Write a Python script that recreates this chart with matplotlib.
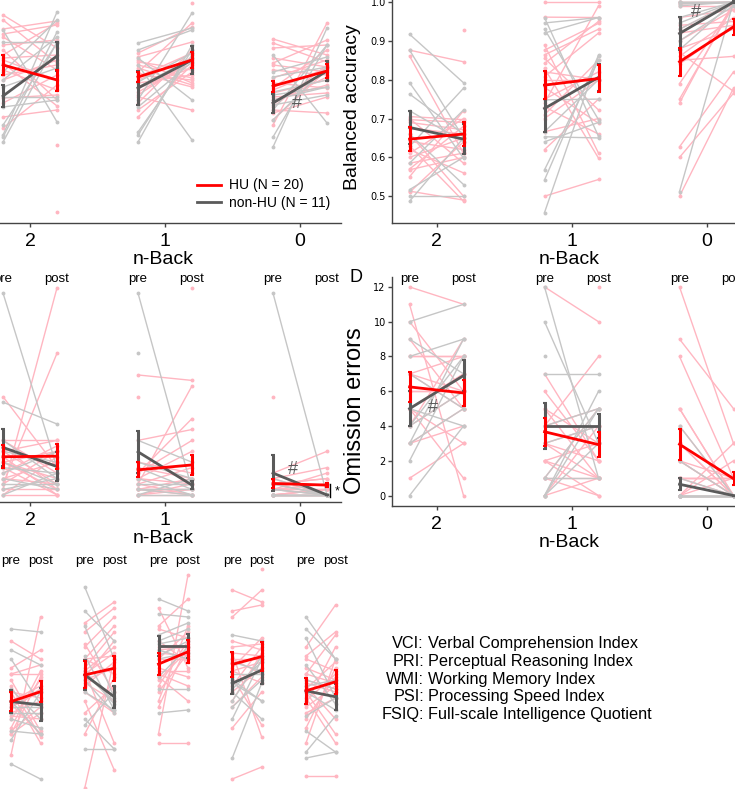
import numpy as np
import matplotlib
matplotlib.use('Agg')
import matplotlib.pyplot as plt
from matplotlib.lines import Line2D
import matplotlib.transforms as mtransforms

nan = np.nan
W, H = 735, 789

# ---------------- labels ----------------
nback_labels = ['2', '1', '0']
wais_labels = ['VCI', 'PRI', 'WMI', 'PSI', 'FSIQ']
wais_names = ['Verbal Comprehension Index', 'Perceptual Reasoning Index',
              'Working Memory Index', 'Processing Speed Index',
              'Full-scale Intelligence Quotient']
group_labels = ['HU (N = 20)', 'non-HU (N = 11)']

# ---------------- Panel A (reaction time, ms) ----------------
A_hu_pre = [
    [770, 760, 742, 732, 726, 700, 690, 680, 674, 660, 640, 604, 594, 566, 544, 710, 684, 650, nan, nan],
    [694, 686, 680, 676, 664, 656, 654, 646, 634, 616, 610, 606, 594, 580, 566, 650, 640, 624, 670, nan],
    [722, 714, 704, 684, 674, 634, 624, 606, 594, 580, 574, 560, 550, 660, 644, 614, 600, 586, 670, 620]]
A_hu_post = [
    [704, 674, 758, 750, 660, 600, 754, 640, 588, 620, 680, 610, 650, 580, 630, 720, 690, 670, 510, 376],
    [746, 716, 634, 660, 630, 754, 626, 694, 650, 674, 680, 580, 700, 656, 670, 640, 684, 664, 644, 794],
    [690, 676, 710, 666, 720, 624, 700, 614, 646, 574, 606, 660, 754, 650, 680, 640, 630, 670, 656, 664]]
A_non_pre = [
    [530, 740, 516, 526, 550, 586, 606, 626, 640, 656, 716],
    [714, 700, 684, 670, 636, 626, 600, 586, 536, 530, 516],
    [506, 526, 690, 656, 646, 616, 600, 590, 580, 560, 610]]
A_non_post = [
    [776, 556, 716, 736, 714, 600, 606, 664, 726, 760, 716],
    [744, 740, 600, 520, 694, 684, 774, 676, 690, 700, 710],
    [744, 710, 554, 686, 666, 640, 626, 610, 710, 666, 626]]
A_hu_mean_pre, A_hu_mean_post = [670, 646, 628], [640, 680, 658]
A_hu_err_pre, A_hu_err_post = [20, 10, 11], [21, 16, 14]
A_non_mean_pre, A_non_mean_post = [608, 624, 594], [688, 680, 658]
A_non_err_pre, A_non_err_post = [22, 34, 19], [29, 28, 20]

# ---------------- Panel B (balanced accuracy) ----------------
B_hu_pre = [
    [0.876, 0.861, 0.705, 0.70, 0.697, 0.69, 0.675, 0.66, 0.641, 0.63, 0.62, 0.61, 0.60, 0.585, 0.57, 0.568, 0.55, 0.513, 0.51, nan],
    [1.0, 0.961, 0.889, 0.876, 0.864, 0.855, 0.842, 0.829, 0.808, 0.78, 0.71, 0.70, 0.5, 0.666, 0.62, 0.75, 0.73, 0.74, 0.80, 0.82],
    [1.0, 1.0, 0.995, 0.99, 0.96, 0.94, 0.93, 0.92, 0.90, 0.88, 0.87, 0.86, 0.85, 0.84, 0.79, 0.627, 0.6, 0.5, 0.75, 0.74]]
B_hu_post = [
    [0.846, 0.61, 0.697, 0.585, 0.69, 0.671, 0.66, 0.5, 0.62, 0.487, 0.56, 0.70, 0.65, 0.611, 0.68, 0.6, 0.72, 0.49, 0.64, 0.929],
    [1.0, 0.96, 0.611, 0.945, 0.93, 0.722, 0.95, 0.598, 0.92, 0.688, 0.85, 0.80, 0.543, 0.70, 0.75, 0.82, 0.66, 0.99, 0.8, 0.8],
    [1.0, 1.0, 1.0, 0.99, 0.98, 0.95, 1.0, 0.94, 0.98, 0.93, 0.77, 0.96, 0.86, 0.94, 0.99, 0.82, 0.765, 0.778, 0.99, 1.0]]
B_non_pre = [
    [0.917, 0.876, 0.792, 0.763, 0.628, 0.66, 0.585, 0.517, 0.5, 0.487, 0.72],
    [0.96, 0.946, 0.93, 0.92, 0.748, 0.666, 0.653, 0.64, 0.568, 0.542, 0.458],
    [1.0, 1.0, 1.0, 0.995, 0.96, 0.946, 0.93, 0.9, 0.877, 0.99, 0.512]]
B_non_post = [
    [0.792, 0.65, 0.598, 0.66, 0.778, 0.53, 0.722, 0.6, 0.5, 0.65, 0.64],
    [0.654, 0.96, 0.697, 0.96, 0.75, 0.80, 0.65, 0.69, 0.85, 0.863, 0.86],
    [1.0, 1.0, 1.0, 1.0, 1.0, 1.0, 1.0, 0.99, 1.0, 1.0, 1.0]]
B_hu_mean_pre, B_hu_mean_post = [0.647, 0.786, 0.846], [0.660, 0.803, 0.936]
B_hu_err_pre, B_hu_err_post = [0.030, 0.036, 0.036], [0.031, 0.036, 0.020]
B_non_mean_pre, B_non_mean_post = [0.677, 0.726, 0.919], [0.647, 0.806, 1.0]
B_non_err_pre, B_non_err_post = [0.043, 0.060, 0.043], [0.039, 0.034, 0.003]
B_yticks = [0.5, 0.6, 0.7, 0.8, 0.9, 1.0]

# ---------------- Panel C (commission errors) ----------------
C_hu_pre = [
    [18, 10, 10, 9, 8, 7, 6, 6, 5, 4, 3, 3, 2, 2, 1, 1, 0, 0, 8, 6],
    [22, 18, 10, 5, 4, 3, 3, 2, 2, 1, 1, 1, 0, 0, 0, 6, 4, 2, 1, nan],
    [18, 4, 3, 2, 2, 1, 1, 1, 1, 0, 0, 0, 0, 0, 1, 2, 3, 1, 0, 2]]
C_hu_post = [
    [5, 10, 4, 1, 2, 0, 3, 1, 0, 9, 6, 2, 26, 8, 38, 1, 0, 7, 10, 8],
    [21, nan, 12, 3, 14, 8, 2, 0, 20, 3, 1, 0, 2, 1, 0, 4, 10, 5, 1, 38],
    [nan, 8, 5, 3, 2, 1, 0, 2, 1, 0, 1, 0, 0, 1, 4, 3, 0, 2, 1, 0]]
C_non_pre = [
    [37, 17, 10, 8, 6, 5, 4, 3, 2, 1, 0],
    [37, 26, 10, 6, 5, 3, 2, 1, 1, 0, 0],
    [37, 3, 2, 2, 1, 1, 0, 0, 0, 0, 0]]
C_non_post = [
    [5, 13, 3, 6, 2, 4, 8, 1, 2, 3, 4],
    [1, nan, 6, 3, 1, 0, 2, 1, 0, 3, 0],
    [0, 0, 0, 0, 0, 0, 0, 0, 0, 0, 0]]
C_hu_mean_pre, C_hu_mean_post = [7.0, 4.6, 2.1], [7.1, 5.5, 1.8]
C_hu_err_pre, C_hu_err_post = [2.1, 1.4, 0.9], [2.3, 1.9, 0.4]
C_non_mean_pre, C_non_mean_post = [8.7, 7.9, 4.0], [5.2, 1.8, 0.0]
C_non_err_pre, C_non_err_post = [3.4, 3.8, 3.3], [2.6, 0.8, 0.0]

# ---------------- Panel D (omission errors) ----------------
D_hu_pre = [
    [12, 11, 10, 9, 8, 8, 7, 7, 7, 6, 5, 5, 5, 4, 3, 3, 1, 6, 5, 4],
    [12, 7, 5, 4, 4, 3, 3, 3, 2, 2, 2, 1, 1, 1, 0, 0, 5, 6, 4, nan],
    [12, 9, 8, 5, 3, 2, 2, 1, 1, 1, 0, 0, 0, 0, 0, 1, 2, 3, 4, 5]]
D_hu_post = [
    [11, 0, 6, 5, 8, 8, 5, 8, 6, 6, 1, 7, 3, 9, 4, 5, 3, 6, 7, 6],
    [10, 2, 1, 5, 8, 1, 4, 2, 3, 1, 0, 5, 1, 0, 1, 4, 3, 2, 4, 12],
    [3, 5, 1, 0, 0, 1, 0, 1, 0, 1, 3, 0, 1, 2, 0, 1, 0, 0, 0, 0]]
D_non_pre = [
    [10, 8, 7, 5, 4, 4, 3, 3, 2, 0, 9],
    [12, 10, 8, 7, 4, 3, 1, 1, 0, 0, 0],
    [4, 2, 1, 0, 0, 0, 0, 0, 0, 0, 0]]
D_non_post = [
    [11, 9, 5, 4, 8, 6, 9, 5, 8, 4, 7],
    [1, 3, nan, 7, 5, 4, 1, 5, 6, 5, 3],
    [0, 0, 0, 0, 0, 0, 0, 0, 0, 0, 0]]
D_hu_mean_pre, D_hu_mean_post = [6.25, 3.67, 2.95], [5.9, 2.93, 0.97]
D_hu_err_pre, D_hu_err_post = [0.85, 0.8, 0.9], [0.76, 0.7, 0.38]
D_non_mean_pre, D_non_mean_post = [5.0, 4.0, 0.65], [6.9, 4.0, 0.0]
D_non_err_pre, D_non_err_post = [1.0, 1.33, 0.35], [0.9, 0.67, 0.0]
D_yticks = [0, 2, 4, 6, 8, 10, 12]

# ---------------- Panel E (WAIS indices) ----------------
E_hu_pre = [
    [113, 104, 102, 102, 100, 98, 96, 93, 91, 89, 87, 83, 82, 82, 75, 91, 96, 88, 84, 92],
    [119, 116, 111, 107, 104, 103, 102, 100, 99, 96, 93, 103, 89, 82, 64, 101, 98, 107, 112, 107],
    [124, 118, 117, 111, 107, 104, 102, 101, 100, 98, 96, 93, 91, 82, 79, 109, 113, 107, 103, 110],
    [130, 123, 121, 109, 107, 103, 101, 109, 111, 113, 107, 104, 103, 98, 96, 93, 91, 84, 67, nan],
    [111, 108, 102, 92, 79, 68, 107, 104, 100, 98, 96, 94, 93, 91, 89, 87, 84, 99, 102, 97]]
E_hu_post = [
    [107, 110, 105, 102, 83, 81, 79, 98, 96, 93, 100, 91, 89, 101, 121, 97, 94, 87, 103, 82],
    [126, 124, 121, 118, 116, 111, 109, 104, 93, 89, 70, 79, 98, 101, 107, 113, 106, 108, 96, 102],
    [104, 127, 114, 111, 107, 101, 98, 93, 110, 113, 109, 118, 112, 135, 79, 108, 106, 116, 103, 111],
    [126, 125, 130, 108, 102, 99, 85, 81, 112, 110, 107, 114, 106, 111, 104, 109, 101, 96, 71, 137],
    [125, 116, 115, 111, 107, 68, 103, 100, 97, 87, 82, 79, 102, 98, 94, 101, 104, 96, 99, 106]]
E_non_pre = [
    [117, 110, 107, 97, 93, 87, 80, 72, 91, 89, 83],
    [131, 123, 118, 108, 102, 96, 87, 85, 77, 103, 100],
    [127, 122, 115, 113, 101, 97, 89, 112, 110, 108, 107],
    [115, 106, 99, 96, 91, 87, 74, 102, 100, 97, 93],
    [121, 117, 114, 105, 96, 88, 83, 76, 74, 100, 98]]
E_non_post = [
    [116, 105, 92, 87, 82, 84, 96, 67, 91, 89, 82],
    [107, 113, 94, 90, 93, 90, 77, 96, 77, 92, 89],
    [123, 121, 119, 117, 111, 97, 90, 114, 107, 113, 109],
    [113, 103, 93, 87, 100, 107, 99, 102, 93, 106, 108],
    [107, 107, 94, 92, 90, 94, 76, 88, 76, 97, 100]]
E_hu_mean_pre, E_hu_mean_post = [92.8, 101.7, 105.3, 105.2, 96.4], [96.1, 103.9, 109.4, 107.8, 99.4]
E_hu_err_pre, E_hu_err_post = [3.3, 4.5, 3.6, 4.2, 4.4], [3.6, 4.2, 3.9, 4.7, 4.0]
E_non_mean_pre, E_non_mean_post = [92.8, 101.7, 111.3, 98.9, 96.4], [91.7, 94.4, 111.3, 103.3, 94.4]
E_non_err_pre, E_non_err_post = [3.8, 4.9, 3.3, 3.6, 4.4], [5.5, 3.6, 4.0, 4.5, 4.4]

# ---------------- style ----------------
HU_DOT = '#ffb6c1'
NON_DOT = '#c6c6c6'
HU_MEAN = '#ff0000'
NON_MEAN = '#5a5a5a'
SPINE = '#444444'
OFF = 0.2

plt.rcParams['font.family'] = ['Liberation Sans', 'DejaVu Sans']

fig = plt.figure(figsize=(W / 100, H / 100), dpi=100)


def add_ax(left, top, width, height):
    return fig.add_axes([left / W, 1 - (top + height) / H, width / W, height / H])


def draw_groups(ax, hu_pre, hu_post, non_pre, non_post,
                hmp, hmq, hep, heq, nmp, nmq, nep, neq):
    for k in range(len(hu_pre)):
        xs = [k - OFF, k + OFF]
        for a, b in zip(hu_pre[k], hu_post[k]):
            ax.plot(xs, [a, b], '-o', color=HU_DOT, lw=1, ms=2.8, mew=0, zorder=2)
        for a, b in zip(non_pre[k], non_post[k]):
            ax.plot(xs, [a, b], '-o', color=NON_DOT, lw=1, ms=2.8, mew=0, zorder=2.5)
        ax.errorbar(xs, [nmp[k], nmq[k]], yerr=[nep[k], neq[k]], color=NON_MEAN,
                    lw=2, elinewidth=2.2, capsize=1.5, capthick=1.5, zorder=4)
        ax.errorbar(xs, [hmp[k], hmq[k]], yerr=[hep[k], heq[k]], color=HU_MEAN,
                    lw=2, elinewidth=2.2, capsize=1.5, capthick=1.5, zorder=5)


def prepost(ax, n, y=None, dy=-2):
    for k in range(n):
        for xo, t in ((-OFF, 'pre'), (OFF, 'post')):
            if y is None:
                trans = mtransforms.offset_copy(
                    mtransforms.blended_transform_factory(ax.transData, ax.transAxes),
                    fig=fig, x=0, y=dy, units='points')
                ax.text(k + xo, 1.0, t, transform=trans, ha='center', va='center', fontsize=9.5)
            else:
                ax.text(k + xo, y, t, ha='center', va='center', fontsize=9.5)


def style_nback(ax, show_y):
    ax.spines['top'].set_visible(False)
    ax.spines['right'].set_visible(False)
    for s in ('left', 'bottom'):
        ax.spines[s].set_color(SPINE)
        ax.spines[s].set_linewidth(1)
    ax.set_xlim(-0.33, 2.3)
    ax.set_xticks(range(3))
    ax.set_xticklabels(nback_labels)
    ax.tick_params(axis='x', length=3, width=1, color=SPINE, pad=4, labelsize=14)
    ax.set_xlabel('n-Back', fontsize=14, labelpad=1)
    if show_y:
        ax.tick_params(axis='y', length=3, width=1, color=SPINE, pad=1.5, labelsize=7)
        for lab in ax.get_yticklabels():
            lab.set_family('DejaVu Sans')
    else:
        ax.spines['left'].set_visible(False)
        ax.tick_params(axis='y', left=False, labelleft=False)


# ---- Panel A ----
axA = add_ax(-14.5, -8.5, 355, 231.5)
draw_groups(axA, A_hu_pre, A_hu_post, A_non_pre, A_non_post,
            A_hu_mean_pre, A_hu_mean_post, A_hu_err_pre, A_hu_err_post,
            A_non_mean_pre, A_non_mean_post, A_non_err_pre, A_non_err_post)
axA.set_ylim(354, 817)
style_nback(axA, False)
prepost(axA, 3)
axA.text(1.978, 594, '#', ha='center', va='center', fontsize=13, color=NON_MEAN)
handles = [Line2D([], [], color=HU_MEAN, lw=2), Line2D([], [], color=NON_MEAN, lw=2)]
axA.legend(handles, group_labels, loc='upper left', bbox_to_anchor=(197 / W, 1 - 178.5 / H),
           bbox_transform=fig.transFigure, frameon=False, fontsize=10, borderpad=0,
           borderaxespad=0, handlelength=1.7, handletextpad=0.6, labelspacing=0.25)

# ---- Panel B ----
axB = add_ax(392, -8.5, 355, 231.5)
draw_groups(axB, B_hu_pre, B_hu_post, B_non_pre, B_non_post,
            B_hu_mean_pre, B_hu_mean_post, B_hu_err_pre, B_hu_err_post,
            B_non_mean_pre, B_non_mean_post, B_non_err_pre, B_non_err_post)
axB.set_ylim(0.431, 1.027)
axB.set_yticks(B_yticks)
axB.set_yticklabels([f'{v:.1f}' for v in B_yticks])
style_nback(axB, True)
axB.set_ylabel('Balanced accuracy', fontsize=14)
axB.yaxis.set_label_coords(-0.087, 0.5)
prepost(axB, 3)
axB.text(1.922, 0.974, '#', ha='center', va='center', fontsize=13, color=NON_MEAN)

# ---- Panel C ----
axC = add_ax(-14.5, 279, 355, 223)
draw_groups(axC, C_hu_pre, C_hu_post, C_non_pre, C_non_post,
            C_hu_mean_pre, C_hu_mean_post, C_hu_err_pre, C_hu_err_post,
            C_non_mean_pre, C_non_mean_post, C_non_err_pre, C_non_err_post)
axC.set_ylim(-1.3, 39.6)
style_nback(axC, False)
prepost(axC, 3, dy=0.2)
axC.text(1.948, 4.6, '#', ha='center', va='center', fontsize=13, color=NON_MEAN)
axC.plot([2.222, 2.222], [-0.35, 2.0], color='k', lw=1, zorder=6)
axC.text(2.274, 0.55, '*', ha='center', va='center', fontsize=9)

# ---- Panel D ----
axD = add_ax(392, 276.5, 355, 229.5)
draw_groups(axD, D_hu_pre, D_hu_post, D_non_pre, D_non_post,
            D_hu_mean_pre, D_hu_mean_post, D_hu_err_pre, D_hu_err_post,
            D_non_mean_pre, D_non_mean_post, D_non_err_pre, D_non_err_post)
axD.set_ylim(-0.6, 12.6)
axD.set_yticks(D_yticks)
style_nback(axD, True)
axD.set_ylabel('Omission errors', fontsize=17)
axD.yaxis.set_label_coords(-0.073, 0.414)
prepost(axD, 3)
axD.text(-0.03, 5.05, '#', ha='center', va='center', fontsize=13, color=NON_MEAN)
fig.text(356 / W, 1 - 278 / H, 'D', fontsize=13, ha='center', va='center')

# ---- Panel E ----
axE = add_ax(-18.5, 550, 383.5, 265)
draw_groups(axE, E_hu_pre, E_hu_post, E_non_pre, E_non_post,
            E_hu_mean_pre, E_hu_mean_post, E_hu_err_pre, E_hu_err_post,
            E_non_mean_pre, E_non_mean_post, E_non_err_pre, E_non_err_post)
axE.set_xlim(-0.6, 4.6)
axE.set_ylim(55, 143.33)
for s in axE.spines.values():
    s.set_visible(False)
axE.set_xticks([])
axE.set_yticks([])
prepost(axE, 5, y=139.5)

# ---- abbreviations ----
for i, (ab, nm) in enumerate(zip(wais_labels, wais_names)):
    yy = 1 - (643.5 + 17.8 * i) / H
    fig.text(424 / W, yy, ab + ':', ha='right', va='center', fontsize=11.7)
    fig.text(428 / W, yy, nm, ha='left', va='center', fontsize=11.7)

fig.savefig('out.png', dpi=100)
